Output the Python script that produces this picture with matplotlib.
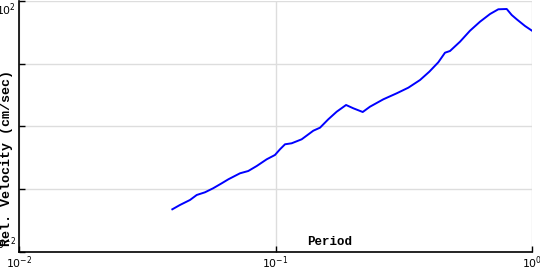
import numpy as np
import matplotlib
matplotlib.use('Agg')
import matplotlib.pyplot as plt

# response spectrum
period = [0.0396, 0.0424, 0.0464, 0.0493, 0.0531, 0.0571, 0.0617, 0.0655,
          0.0727, 0.0783, 0.0845, 0.0924, 0.0995, 0.1041, 0.1089, 0.1156,
          0.1265, 0.1404, 0.1491, 0.1606, 0.1732, 0.1884, 0.2011, 0.2188,
          0.2335, 0.2633, 0.2969, 0.3294, 0.3660, 0.3978, 0.4312, 0.4579,
          0.4790, 0.5240, 0.5732, 0.6271, 0.6861, 0.7389, 0.7969, 0.8334,
          0.8717, 0.9391, 1.0]
rel_vel = [0.0479, 0.0561, 0.0674, 0.0810, 0.0894, 0.1035, 0.1244, 0.1441,
           0.1795, 0.1953, 0.2347, 0.3001, 0.3514, 0.4332, 0.5204, 0.540,
           0.6252, 0.857, 0.957, 1.302, 1.721, 2.201, 1.950, 1.702,
           2.068, 2.713, 3.382, 4.152, 5.508, 7.470, 10.55, 15.0,
           15.97, 22.46, 33.62, 46.79, 62.06, 73.75, 74.57, 59.83,
           51.09, 39.96, 33.62]

xticks = [0.01, 0.1, 1.0]
xlabels = ['$10^{-2}$', '$10^{-1}$', '$10^{0}$']
yticks = [0.01, 0.1, 1.0, 10.0, 100.0]
ylabels = ['$10^{-2}$', '', '', '', '$10^{2}$']

fig = plt.figure(figsize=(5.4, 2.7), dpi=100)
ax = fig.add_axes([0.0352, 0.0667, 0.9500, 0.9296])

ax.plot(period, rel_vel, color='#0000ff', lw=1.4)
ax.set_xscale('log')
ax.set_yscale('log')
ax.set_xlim(0.01, 1.0)
ax.set_ylim(0.01, 100.0)

ax.set_xticks(xticks)
ax.set_xticklabels(xlabels)
ax.set_yticks(yticks)
ax.set_yticklabels(ylabels)
ax.minorticks_off()
ax.tick_params(direction='in', length=4, width=1, labelsize=7.8, pad=2)
ax.grid(True, color='#dddddd', lw=1)
ax.set_axisbelow(True)

# keep the end labels of the y axis inside the figure
ylab = ax.get_yticklabels()
ylab[0].set_va('bottom')
ylab[-1].set_va('top')

for s in ['top', 'right']:
    ax.spines[s].set_visible(False)
for s in ['left', 'bottom']:
    ax.spines[s].set_linewidth(1.2)

ax.text(0.606, 0.04, 'Period', transform=ax.transAxes, ha='center', va='center',
        family='Liberation Mono', weight='bold', fontsize=9)
fig.text(0.013, 0.415, 'Rel. Velocity (cm/sec)', rotation=90, ha='center', va='center',
         family='Liberation Mono', weight='bold', fontsize=9.6)

fig.savefig('out.png', dpi=100)
